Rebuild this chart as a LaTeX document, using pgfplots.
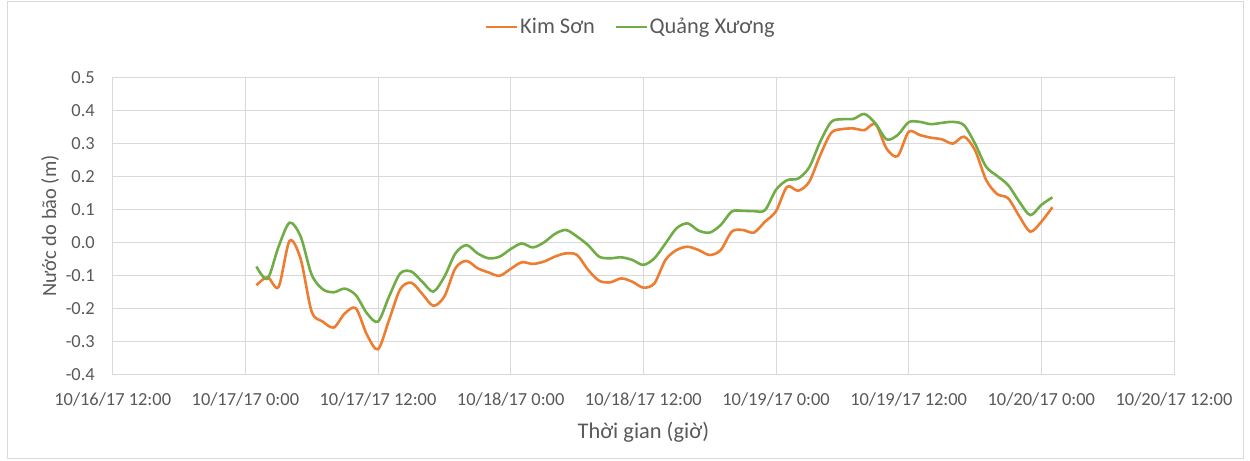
\documentclass[border=0pt]{standalone}
\usepackage{pgfplots}
\usepackage{pgfplotstable}
\pgfplotsset{compat=1.18}
\usepackage{fontspec}
\setmainfont{Carlito}
\definecolor{ks}{HTML}{ED7D31}
\definecolor{qx}{HTML}{70AD47}
\definecolor{txt}{HTML}{595959}
\definecolor{gridc}{HTML}{D9D9D9}

\pgfplotstableread{
h ks qx
13 -0.130 -0.073
14 -0.105 -0.110
15 -0.135 -0.013
16 0.005 0.060
17 -0.050 0.018
18 -0.210 -0.098
19 -0.240 -0.142
20 -0.258 -0.151
21 -0.215 -0.140
22 -0.200 -0.160
23 -0.280 -0.215
24 -0.324 -0.240
25 -0.235 -0.164
26 -0.142 -0.094
27 -0.122 -0.088
28 -0.156 -0.119
29 -0.192 -0.149
30 -0.164 -0.104
31 -0.078 -0.033
32 -0.056 -0.008
33 -0.078 -0.033
34 -0.091 -0.048
35 -0.101 -0.043
36 -0.080 -0.020
37 -0.060 -0.003
38 -0.065 -0.015
39 -0.058 0.000
40 -0.043 0.026
41 -0.033 0.038
42 -0.038 0.018
43 -0.083 -0.008
44 -0.116 -0.043
45 -0.121 -0.048
46 -0.109 -0.045
47 -0.119 -0.053
48 -0.137 -0.068
49 -0.124 -0.048
50 -0.053 -0.003
51 -0.023 0.043
52 -0.013 0.058
53 -0.023 0.036
54 -0.038 0.030
55 -0.023 0.053
56 0.033 0.094
57 0.038 0.096
58 0.030 0.095
59 0.063 0.098
60 0.095 0.160
61 0.169 0.189
62 0.157 0.194
63 0.184 0.228
64 0.265 0.306
65 0.333 0.366
66 0.344 0.374
67 0.346 0.375
68 0.341 0.390
69 0.359 0.361
70 0.285 0.313
71 0.262 0.326
72 0.336 0.365
73 0.326 0.366
74 0.318 0.359
75 0.313 0.363
76 0.300 0.366
77 0.321 0.356
78 0.280 0.300
79 0.190 0.230
80 0.147 0.202
81 0.134 0.174
82 0.080 0.124
83 0.033 0.083
84 0.063 0.114
85 0.107 0.137
}\data

\begin{document}
\begin{tikzpicture}
\begin{axis}[name=ax, scale only axis, width=1061.3bp, height=296.6bp,
  xmin=0, xmax=96, ymin=-0.4, ymax=0.5,
  xtick={0,12,24,36,48,60,72,84,96},
  xticklabels={10/16/17 12:00,10/17/17 0:00,10/17/17 12:00,10/18/17 0:00,10/18/17 12:00,10/19/17 0:00,10/19/17 12:00,10/20/17 0:00,10/20/17 12:00},
  ytick={-0.4,-0.3,-0.2,-0.1,0,0.1,0.2,0.3,0.4,0.5},
  yticklabels={-0.4,-0.3,-0.2,-0.1,0.0,0.1,0.2,0.3,0.4,0.5},
  grid=major, major grid style={draw=gridc, line width=1bp},
  axis line style={draw=gridc, line width=1bp},
  major tick length=0pt,
  tick label style={font=\fontsize{18.5}{22}\selectfont, text=txt, inner sep=0pt},
  xticklabel style={anchor=base, yshift=-31bp},
  yticklabel style={anchor=base east, xshift=-17.7bp, yshift=-5.8bp},
  every axis y label/.style={at={(axis description cs:-0.0534,0.5)}, rotate=90, anchor=base},
  every axis x label/.style={at={(axis description cs:0.5,-0.2165)}, anchor=base, font=\fontsize{22.5}{26}\selectfont},
  label style={text=txt},
  ylabel style={font=\fontsize{20.5}{24}\selectfont},
  ylabel={Nước do bão (m)},
  xlabel={Thời gian (giờ)},
  legend columns=-1,
  legend style={draw=none, fill=none, at={(0.488,1.171)}, anchor=center,
    font=\fontsize{22.5}{26}\selectfont, text=txt, nodes={inner sep=1.5bp},
    /tikz/every even column/.append style={column sep=18bp}},
  legend image code/.code={\draw[#1] (0bp,0bp) -- (31bp,0bp);},
]
\addplot[ks, line width=2.6bp, smooth] table[x=h, y=ks]{\data};
\addlegendentry{Kim Sơn}
\addplot[qx, line width=2.6bp, smooth] table[x=h, y=qx]{\data};
\addlegendentry{Quảng Xương}
\end{axis}
\draw[gridc, line width=1bp] ([shift={(-104.7bp,-83.7bp)}]ax.south west) rectangle ([shift={(69bp,75.7bp)}]ax.north east);
\path[use as bounding box] ([shift={(-112.7bp,-85.7bp)}]ax.south west) rectangle ([shift={(76bp,77.7bp)}]ax.north east);
\end{tikzpicture}
\end{document}
